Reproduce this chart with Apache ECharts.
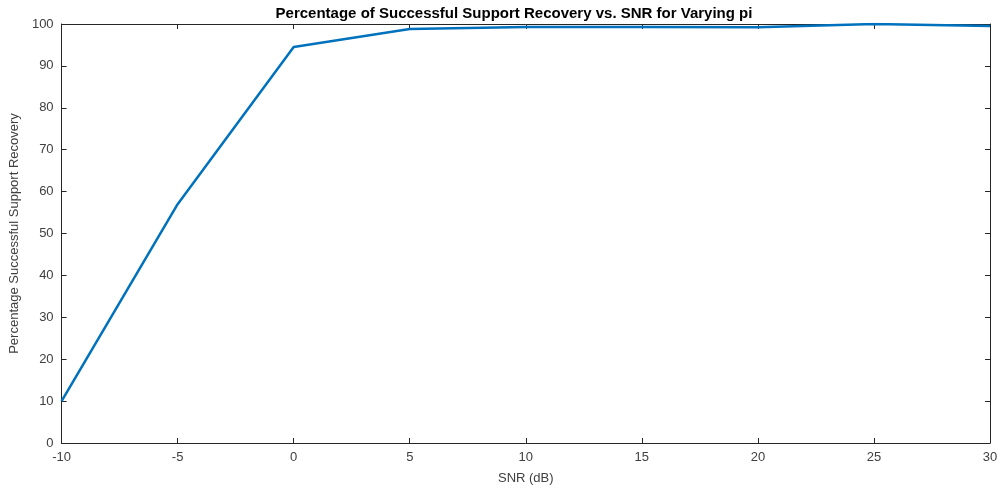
<!DOCTYPE html>
<html><head><meta charset="utf-8">
<script src="https://cdn.jsdelivr.net/npm/echarts@6/dist/echarts.min.js"></script>
<style>html,body{margin:0;padding:0;background:#fff}#c{width:1003px;height:493px}</style>
</head><body><div id="c"></div>
<script>
const snr = [-10, -5, 0, 5, 10, 15, 20, 25, 30];
const recovery = [10, 57, 94.5, 98.8, 99.3, 99.3, 99.2, 100, 99.5];
const titleText = 'Percentage of Successful Support Recovery vs. SNR for Varying pi';

const chart = echarts.init(document.getElementById('c'));
const axisLine = {show: true, onZero: false, lineStyle: {color: '#262626', width: 1}};
const tick = {show: true, inside: true, length: 5, lineStyle: {color: '#262626'}};
const FF = 'Liberation Sans, Arial, sans-serif';
const lbl = {color: '#404040', fontSize: 13, fontFamily: FF};
chart.setOption({
  animation: false,
  title: {text: titleText, left: 509, top: 1, textAlign: 'center',
    textStyle: {fontSize: 15, fontWeight: 'bold', color: '#000', fontFamily: FF}},
  grid: {left: 60, right: 13, top: 24, bottom: 50},
  xAxis: [{
    type: 'value', min: -10, max: 30, interval: 5, position: 'bottom',
    name: 'SNR (dB)', nameLocation: 'middle', nameGap: 29,
    nameTextStyle: {color: '#404040', fontSize: 13, fontFamily: FF},
    axisLine, axisTick: tick, axisLabel: Object.assign({margin: 8}, lbl), splitLine: {show: false}
  }, {
    type: 'value', min: -10, max: 30, interval: 5, position: 'top',
    axisLine, axisTick: tick, axisLabel: {show: false}, splitLine: {show: false}
  }],
  yAxis: [{
    type: 'value', min: 0, max: 100, interval: 10, position: 'left',
    name: 'Percentage Successful Support Recovery', nameLocation: 'middle', nameGap: 39,
    nameTextStyle: {color: '#404040', fontSize: 13, fontFamily: FF},
    axisLine, axisTick: tick, axisLabel: Object.assign({margin: 8}, lbl), splitLine: {show: false}
  }, {
    type: 'value', min: 0, max: 100, interval: 10, position: 'right',
    axisLine, axisTick: tick, axisLabel: {show: false}, splitLine: {show: false}
  }],
  series: [{
    type: 'line', data: snr.map((x, i) => [x, recovery[i]]),
    showSymbol: false, lineStyle: {color: '#0072BD', width: 2.5}, itemStyle: {color: '#0072BD'}
  }]
});
</script></body></html>
